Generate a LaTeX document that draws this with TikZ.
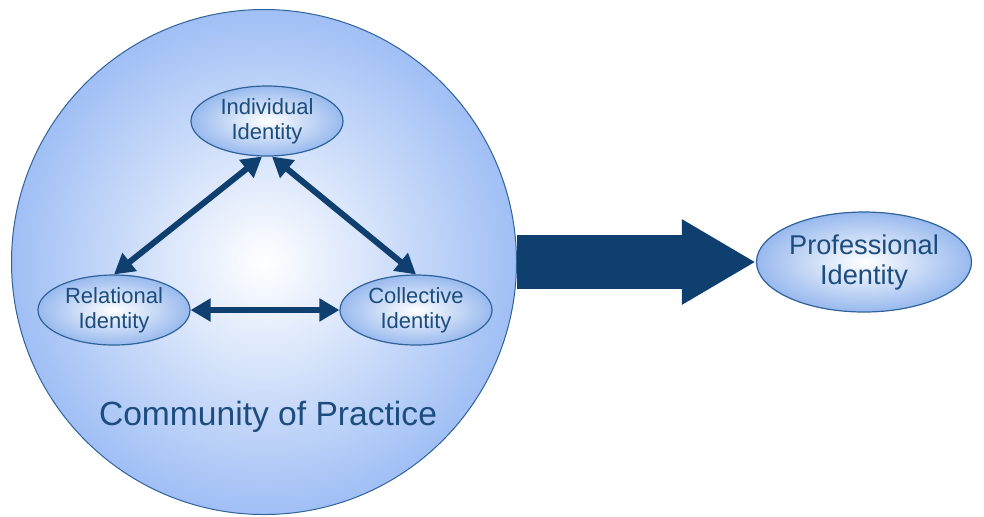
\documentclass[tikz,border=0pt]{standalone}
\usepackage{fontspec}
\setmainfont{Liberation Sans}
\usetikzlibrary{shapes.geometric,arrows.meta,positioning}
\definecolor{cpblue}{HTML}{A0BFF5}
\definecolor{elblue}{HTML}{98B9EE}
\definecolor{rimblue}{HTML}{2F6399}
\definecolor{arrblue}{HTML}{0F3F6F}
\definecolor{txtblue}{HTML}{1C4D7E}
\tikzset{ell/.style={ellipse,draw=rimblue,line width=0.6pt,inner color=white,outer color=elblue,minimum width=76pt,minimum height=35pt,inner sep=0pt,align=center,text=txtblue,font=\fontsize{11}{12.5}\selectfont}}
\tikzset{twoway/.style={{Triangle[length=10pt,width=11pt]}-{Triangle[length=10pt,width=11pt]},line width=3pt,draw=arrblue}}

\begin{document}
\begin{tikzpicture}[x=0.5pt,y=-0.5pt]
    \useasboundingbox (0,0) rectangle (984,516);
    \node[circle,draw=rimblue,line width=0.5pt,inner color=white,outer color=cpblue,minimum size=252.5pt] (cop) at (264,262) {};
    \node[text=txtblue,font=\fontsize{16.8}{18}\selectfont] (coplabel) at (268,417) {Community of Practice};

    \node[ell] (ind) at (267,121) {Individual\\Identity};
    \node[ell] (rel) at (114,310) {Relational\\Identity};
    \node[ell] (col) at (416,310) {Collective\\Identity};
    \node[ell,minimum width=107.5pt,minimum height=50pt,font=\fontsize{13.6}{15}\selectfont] (prof) at (864,262) {Professional\\Identity};

    \draw [twoway] (ind.262) to (rel.north);
    \draw [twoway] (ind.278) to (col.north);
    \draw [twoway] (rel.east) to (col.west);
    \draw [line width=27pt,arrblue,-{Triangle[length=37pt,width=40pt]}] (cop.east) to (prof.west);
\end{tikzpicture}
\end{document}
